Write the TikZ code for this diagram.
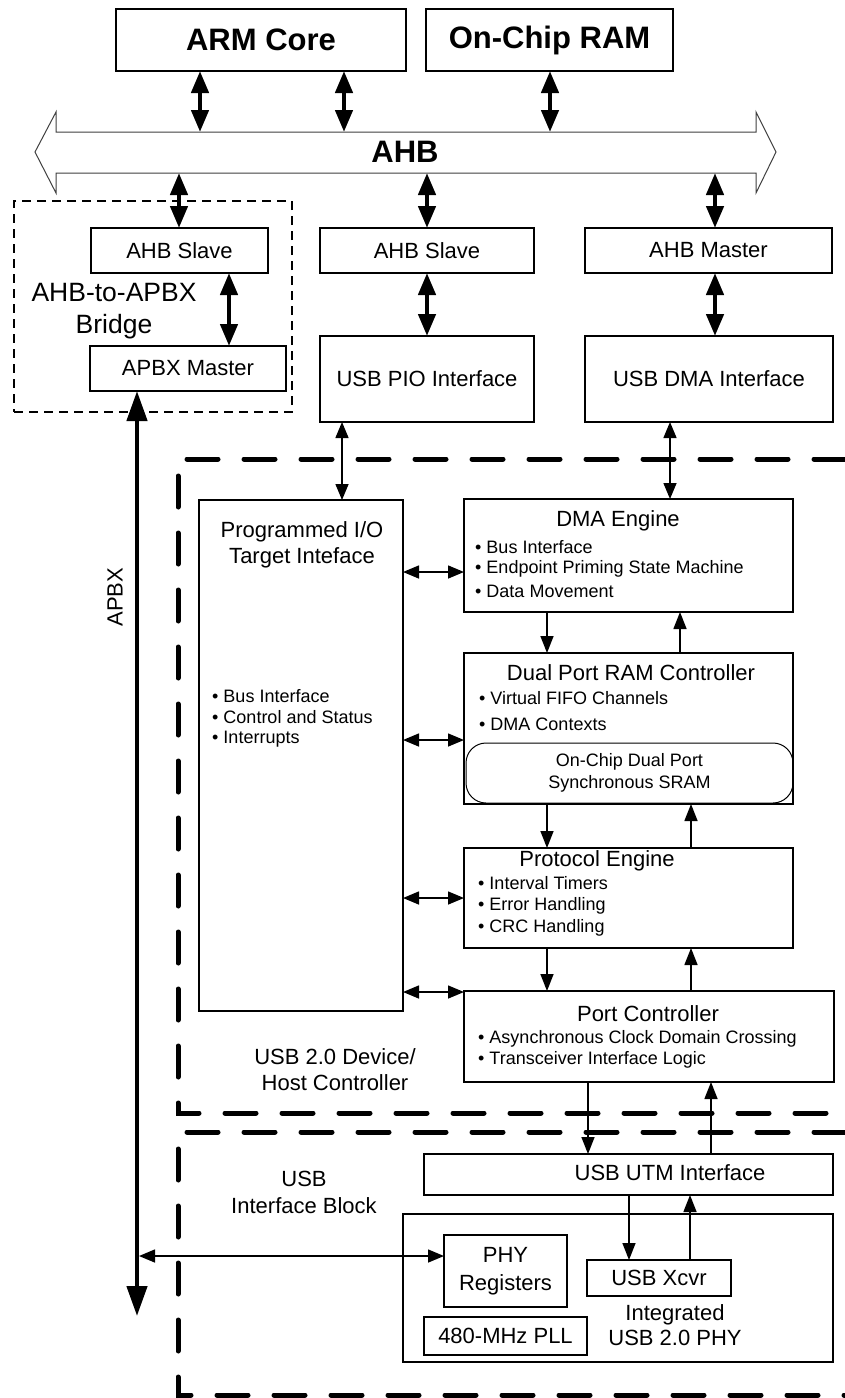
\documentclass[tikz,border=0pt]{standalone}
\usepackage{fontspec}
\setmainfont{Liberation Sans}
\usetikzlibrary{arrows.meta}
\begin{document}
\begin{tikzpicture}[x=1pt,y=-1pt,
 box/.style={draw, line width=1.6pt, inner sep=0pt, outer sep=0pt, font=\fontsize{22}{27}\selectfont, align=center},
 lbl/.style={font=\fontsize{22}{26}\selectfont, inner sep=0pt},
 blbl/.style={font=\fontsize{26.5}{30}\selectfont, inner sep=0pt},
 bul/.style={font=\fontsize{18}{22}\selectfont, inner sep=0pt, anchor=west},
 big/.style={font=\bfseries\fontsize{31}{36}\selectfont, inner sep=0pt},
 thk/.style={line width=4.5pt, {Triangle[length=22pt,width=17pt]}-{Triangle[length=22pt,width=17pt]}},
 thn/.style={line width=1.5pt, {Triangle[length=16pt,width=13pt]}-{Triangle[length=16pt,width=13pt]}},
 sar/.style={line width=1.5pt, -{Triangle[length=17pt,width=13pt]}},
 bigdash/.style={line width=5pt, line cap=round, dash pattern=on 31pt off 26pt},
 ]
\useasboundingbox (0,0) rectangle (845,1398);
\fill[white] (0,0) rectangle (845,1398);

% ---------- top boxes ----------
\node[box, minimum width=290pt, minimum height=62pt] (arm) at (261,40) {};
\node[big] (armt) at (261,40) {ARM Core};
\node[box, minimum width=247pt, minimum height=62pt] (ram) at (549.5,40) {};
\node[big] (ramt) at (549.5,40) {On-Chip RAM};

% ---------- AHB bus ----------
\draw[line width=1pt, black!75] (35,152) -- (56,112) -- (56,132) -- (756,132) -- (756,112)
  -- (776,152) -- (756,193) -- (756,173) -- (56,173) -- (56,193) -- cycle;
\node[big] (ahb) at (405,152) {AHB};
\coordinate (busT) at (405,132);
\coordinate (busB) at (405,173);

% ---------- x / y helper coordinates ----------
\coordinate (x137) at (137,0);
\coordinate (x139) at (139,0);
\coordinate (x179) at (179,0);
\coordinate (x200) at (200,0);
\coordinate (x229) at (229,0);
\coordinate (x342) at (342,0);
\coordinate (x344) at (344,0);
\coordinate (x547) at (547,0);
\coordinate (x550) at (550,0);
\coordinate (x588) at (588,0);
\coordinate (x629) at (629,0);
\coordinate (x670) at (670,0);
\coordinate (x680) at (680,0);
\coordinate (x690) at (690,0);
\coordinate (x691) at (691,0);
\coordinate (x711) at (711,0);
\coordinate (x715) at (715,0);
\coordinate (y572) at (0,572);
\coordinate (y740) at (0,740);
\coordinate (y898) at (0,898);
\coordinate (y992) at (0,992);
\coordinate (y1256) at (0,1256);

% ---------- bridge ----------
\node[draw, line width=1.8pt, dash pattern=on 9pt off 6pt, inner sep=0pt, minimum width=278pt, minimum height=211pt] (bridge) at (153,306.5) {};
\node[box, minimum width=177pt, minimum height=45pt] (bslave) at (179.5,250.5) {AHB Slave};
\node[box, minimum width=196pt, minimum height=45pt] (bmaster) at (188,368.5) {APBX Master};
\node[blbl] (brl1) at (114,293) {AHB-to-APBX};
\node[blbl] (brl2) at (114,327) {Bridge};

% ---------- middle / right columns ----------
\node[box, minimum width=214pt, minimum height=45pt] (mslave) at (427,250.5) {AHB Slave};
\node[box, minimum width=214pt, minimum height=86pt] (pio) at (427,379) {USB PIO Interface};
\node[box, minimum width=247pt, minimum height=45pt] (mmaster) at (708.5,250.5) {AHB Master};
\node[box, minimum width=248pt, minimum height=86pt] (dmaif) at (709,379) {USB DMA Interface};

% ---------- USB 2.0 device/host controller ----------
\draw[bigdash] (845,459) -- (178,459) -- (178,1113) -- (845,1113);
\node[lbl] (dhl1) at (335,1057) {USB 2.0 Device/};
\node[lbl] (dhl2) at (335,1083) {Host Controller};

\node[box, minimum width=204pt, minimum height=511pt] (pt) at (301,755.5) {};
\node[lbl] (ptt1) at (302,532) {Programmed I/O};
\node[lbl] (ptt2) at (302,558) {Target Inteface};
\node[bul] (ptb1) at (212,696) {• Bus Interface};
\node[bul] (ptb2) at (212,717) {• Control and Status};
\node[bul] (ptb3) at (212,739) {• Interrupts};

\node[box, minimum width=329pt, minimum height=113pt] (dma) at (628.5,555.5) {};
\node[lbl] (dmat) at (618,521) {DMA Engine};
\node[bul] (dmab1) at (475,547) {• Bus Interface};
\node[bul] (dmab2) at (475,569) {• Endpoint Priming State Machine};
\node[bul] (dmab3) at (475,591) {• Data Movement};

\node[box, minimum width=329pt, minimum height=151pt] (dpr) at (628.5,728.5) {};
\node[lbl] (dprt) at (631,673) {Dual Port RAM Controller};
\node[bul] (dprb1) at (479,698) {• Virtual FIFO Channels};
\node[bul] (dprb2) at (479,724) {• DMA Contexts};
\node[draw, line width=1pt, rounded corners=20pt, inner sep=0pt, minimum width=327pt, minimum height=60pt,
  font=\fontsize{18}{22}\selectfont, align=center] (sram) at (629.5,773) {On-Chip Dual Port\\Synchronous SRAM};

\node[box, minimum width=329pt, minimum height=100pt] (pe) at (628.5,898) {};
\node[lbl] (pet) at (597,861) {Protocol Engine};
\node[bul] (peb1) at (478,883) {• Interval Timers};
\node[bul] (peb2) at (478,906) {• Error Handling};
\node[bul] (peb3) at (478,928) {• CRC Handling};

\node[box, minimum width=370pt, minimum height=91pt] (pc) at (649,1036.5) {};
\node[lbl] (pct) at (648,1014) {Port Controller};
\node[bul] (pcb1) at (478,1038.5) {• Asynchronous Clock Domain Crossing};
\node[bul] (pcb2) at (478,1060) {• Transceiver Interface Logic};

% ---------- USB interface block ----------
\draw[bigdash] (845,1132) -- (178,1132) -- (178,1395) -- (845,1395);
\node[lbl] (ibl1) at (304,1179) {USB};
\node[lbl] (ibl2) at (304,1206) {Interface Block};

\node[box, minimum width=409pt, minimum height=41pt] (utm) at (628.5,1174.5) {};
\node[lbl] (utmt) at (670,1173) {USB UTM Interface};
\node[box, minimum width=430pt, minimum height=148pt] (phy) at (618,1288) {};
\node[box, minimum width=123pt, minimum height=72pt, font=\fontsize{22}{28}\selectfont] (phyreg) at (505.5,1271) {PHY\\Registers};
\node[box, minimum width=144pt, minimum height=36pt] (xcvr) at (659,1278) {USB Xcvr};
\node[box, minimum width=163pt, minimum height=38pt] (pll) at (505.5,1336) {480-MHz PLL};
\node[lbl, align=center, font=\fontsize{22}{25}\selectfont] (phyl) at (675,1325.5) {Integrated\\USB 2.0 PHY};

% ---------- connectors ----------
\draw[thk] (x200 |- arm.south) -- (x200 |- busT);
\draw[thk] (x344 |- arm.south) -- (x344 |- busT);
\draw[thk] (x550 |- ram.south) -- (x550 |- busT);
\draw[thk] (x179 |- busB) -- (x179 |- bslave.north);
\draw[thk] (mslave.north |- busB) -- (mslave.north);
\draw[thk] (x715 |- busB) -- (x715 |- mmaster.north);
\draw[thk] (x229 |- bslave.south) -- (x229 |- bmaster.north);
\draw[thk] (mslave.south) -- (pio.north);
\draw[thk] (x715 |- mmaster.south) -- (x715 |- dmaif.north);

\coordinate (apbxend) at (137,1316);
\draw[line width=4.5pt, {Triangle[length=30pt,width=20pt]}-{Triangle[length=30pt,width=20pt]}] (x137 |- bmaster.south) -- (apbxend);
\node[lbl, rotate=90] (apbxl) at (115,597) {APBX};

\draw[thn] (x342 |- pio.south) -- (x342 |- pt.north);
\draw[thn] (x670 |- dmaif.south) -- (x670 |- dma.north);
\draw[thn] (pt.east |- y572) -- (dma.west |- y572);
\draw[thn] (pt.east |- y740) -- (dpr.west |- y740);
\draw[thn] (pt.east |- y898) -- (pe.west |- y898);
\draw[thn] (pt.east |- y992) -- (pc.west |- y992);
\draw[thn] (phyreg.west |- y1256) -- (x139 |- y1256);

\draw[sar] (x547 |- dma.south) -- (x547 |- dpr.north);
\draw[sar] (x680 |- dpr.north) -- (x680 |- dma.south);
\draw[sar] (x547 |- dpr.south) -- (x547 |- pe.north);
\draw[sar] (x691 |- pe.north) -- (x691 |- dpr.south);
\draw[sar] (x547 |- pe.south) -- (x547 |- pc.north);
\draw[sar] (x691 |- pc.north) -- (x691 |- pe.south);
\draw[sar] (x588 |- pc.south) -- (x588 |- utm.north);
\draw[sar] (x711 |- utm.north) -- (x711 |- pc.south);
\draw[sar] (x629 |- utm.south) -- (x629 |- xcvr.north);
\draw[sar] (x690 |- xcvr.north) -- (x690 |- utm.south);
\end{tikzpicture}
\end{document}
